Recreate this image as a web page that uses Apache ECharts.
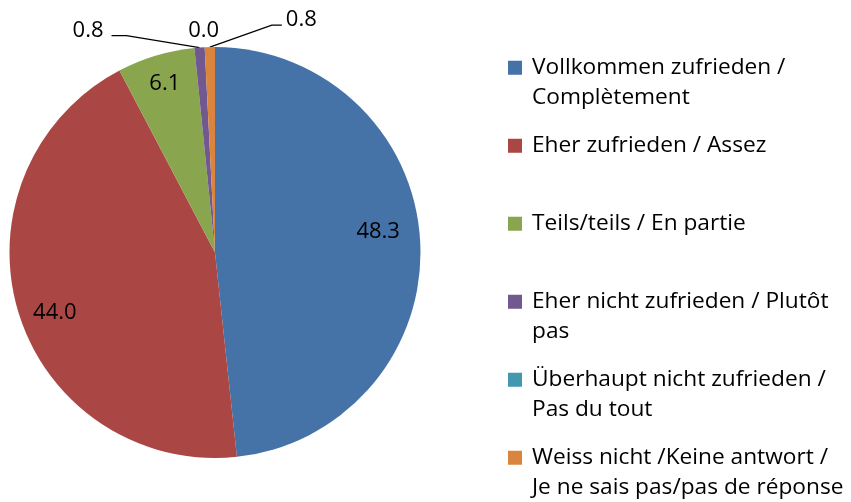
<!DOCTYPE html>
<html>
<head>
<meta charset="utf-8">
<script src="https://cdn.jsdelivr.net/npm/echarts@6/dist/echarts.min.js"></script>
<style>
html,body{margin:0;padding:0;background:#fff;}
#chart{width:851px;height:502px;}
</style>
</head>
<body>
<div id="chart"></div>
<script>
// ---- data ----
const categories = [
  "Vollkommen zufrieden /\nComplètement",
  "Eher zufrieden / Assez",
  "Teils/teils / En partie",
  "Eher nicht zufrieden / Plutôt\npas",
  "Überhaupt nicht zufrieden /\nPas du tout",
  "Weiss nicht /Keine antwort /\nJe ne sais pas/pas de réponse"
];
const values = [48.3, 44.0, 6.1, 0.8, 0.0, 0.8];
const colors = ["#4572A7", "#AA4643", "#89A54E", "#71588F", "#4198AF", "#DB843D"];
const insideLabelIdx = [0, 1, 2];

const FONT = "'Open Sans', 'Noto Sans', sans-serif";
const CX = 215, CY = 252.5, R = 205.5;

const chart = echarts.init(document.getElementById('chart'), null, {renderer: 'canvas'});

const baseData = categories.map((c, i) => ({ name: c, value: values[i], itemStyle: { color: colors[i] } }));

const fmt = p => Number(p.value).toFixed(1);

// leader-line / label placement for the small outer slices, relative to the slice anchor
function smallLabelLayout(p) {
  const a = p.labelLinePoints ? p.labelLinePoints[0] : [p.rect.x, p.rect.y];
  if (p.dataIndex === 3) {
    return { x: a[0] - 96, y: a[1] - 17, align: 'right', verticalAlign: 'middle',
      labelLinePoints: [a, [a[0] - 73, a[1] - 12], [a[0] - 88, a[1] - 12]] };
  }
  if (p.dataIndex === 5) {
    return { x: a[0] + 76, y: a[1] - 27, align: 'left', verticalAlign: 'middle',
      labelLinePoints: [a, [a[0] + 62, a[1] - 22], [a[0] + 72, a[1] - 22]] };
  }
  if (p.dataIndex === 4) {
    return { x: a[0] - 1, y: a[1] - 17, align: 'center', verticalAlign: 'middle',
      labelLinePoints: [a, a, a] };
  }
  return {};
}

// fine adjustment of the inside labels (best-fit placement of the original)
const insideShift = { 0: [-4, -12], 1: [0, 12], 2: [-2, -8] };
function insideLabelLayout(p) {
  const s = insideShift[p.dataIndex];
  return s ? { dx: s[0], dy: s[1] } : {};
}

const option = {
  backgroundColor: '#ffffff',
  animation: false,
  color: colors,
  legend: {
    orient: 'vertical',
    left: 508,
    top: 52.7,
    height: 470,
    padding: 0,
    itemGap: 18,
    itemWidth: 19,
    itemHeight: 60,
    icon: 'path://M0,0h19 M0,8h14v14h-14z M0,60h0.01',
    itemStyle: { borderWidth: 0 },
    selectedMode: false,
    formatter: n => (n.indexOf('\n') >= 0 ? n : n + '\n\u00a0'),
    textStyle: { fontFamily: FONT, fontSize: 22.7, lineHeight: 30, color: '#000' },
    data: categories
  },
  series: [
    {
      name: 'main',
      type: 'pie',
      center: [CX, CY],
      radius: [0, R],
      startAngle: 90,
      clockwise: true,
      avoidLabelOverlap: false,
      minShowLabelAngle: 0,
      itemStyle: { borderWidth: 0 },
      emphasis: { disabled: true },
      label: {
        show: true,
        position: 'outside',
        formatter: fmt,
        fontFamily: FONT, fontSize: 22, color: '#000'
      },
      labelLine: { show: true, length: 10, length2: 10, lineStyle: { color: '#000', width: 1.3 } },
      labelLayout: smallLabelLayout,
      data: baseData.map((d, i) => Object.assign({}, d, insideLabelIdx.includes(i) ? { label: { show: false }, labelLine: { show: false } } : {}))
    },
    {
      name: 'labels',
      type: 'pie',
      center: [CX, CY],
      radius: [R * 0.6, R],
      startAngle: 90,
      clockwise: true,
      silent: true,
      avoidLabelOverlap: false,
      itemStyle: { color: 'rgba(0,0,0,0)', borderWidth: 0 },
      emphasis: { disabled: true },
      label: {
        show: true,
        position: 'inside',
        formatter: fmt,
        fontFamily: FONT, fontSize: 22, color: '#000'
      },
      labelLine: { show: false },
      labelLayout: insideLabelLayout,
      data: categories.map((c, i) => ({ name: c, value: values[i], label: { show: insideLabelIdx.includes(i) } }))
    }
  ]
};
chart.setOption(option);
</script>
</body>
</html>
